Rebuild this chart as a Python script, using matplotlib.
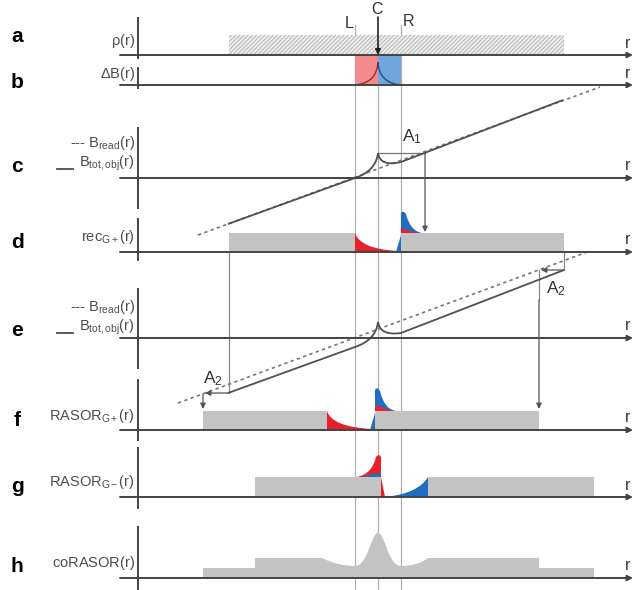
import numpy as np
import matplotlib.pyplot as plt
from matplotlib.path import Path
from matplotlib.patches import PathPatch, Rectangle, Polygon

plt.rcParams['font.family'] = ['Liberation Sans', 'DejaVu Sans']
plt.rcParams['mathtext.fontset'] = 'custom'
plt.rcParams['mathtext.rm'] = 'Liberation Sans'
plt.rcParams['mathtext.it'] = 'Liberation Sans:italic'
plt.rcParams['hatch.linewidth'] = 0.7

# ---- layout (pixel units) ----
rows = ['a', 'b', 'c', 'd', 'e', 'f', 'g', 'h']
row_y = [55, 85, 178, 252, 338, 430, 497, 578]          # baseline of each r axis
yax_top = [18, 68, 128, 219, 289, 380, 448, 527]
yax_bot = [58, 88, 208, 260, 368, 440, 508, 590]
letter_y = [37, 82, 167, 243, 330, 420, 486, 567]

ylabels = [r'$\mathregular{\rho(r)}$', r'$\mathregular{\Delta B(r)}$', None,
           r'$\mathregular{rec_{G+}(r)}$', None,
           r'$\mathregular{RASOR_{G+}(r)}$', r'$\mathregular{RASOR_{G-}(r)}$',
           r'$\mathregular{coRASOR(r)}$']
ylabel_y = [41, 74, None, 237, None, 416, 482, 563]

x_L, x_C, x_R = 355, 378, 401
obj_left, obj_right = 229, 564

gray = '#c3c3c3'
red = '#e8202a'
blue = '#1f6fc0'
axc = '#444444'
txt = '#4d4d4d'

fig = plt.figure(figsize=(6.38, 5.90), dpi=100)
ax = fig.add_axes([0, 0, 1, 1])
ax.set_xlim(0, 638)
ax.set_ylim(590, 0)
ax.axis('off')


def shape(verts, codes, color, z=3):
    ax.add_patch(PathPatch(Path(verts, codes), facecolor=color, edgecolor='none', zorder=z))


def arrow(p0, p1, lw=0.9, color='#555555'):
    ax.annotate('', xy=p1, xytext=p0,
                arrowprops=dict(arrowstyle='-|>', color=color, lw=lw,
                                mutation_scale=8, shrinkA=0, shrinkB=0), zorder=6)


M, L2, C3, C4, CL = Path.MOVETO, Path.LINETO, Path.CURVE3, Path.CURVE4, Path.CLOSEPOLY

# ---- axes ----
for i, y0 in enumerate(row_y):
    ax.plot([138, 138], [yax_top[i], yax_bot[i]], color=axc, lw=1.4, zorder=5)
    arrow((120, y0), (633, y0), lw=1.4, color=axc)
    ax.text(628, y0 - 12, 'r', fontsize=11.5, color='#333', ha='center', va='center')
    ax.text(17, letter_y[i], rows[i], fontsize=15, fontweight='bold', ha='center', va='center')
    if ylabels[i]:
        ax.text(135, ylabel_y[i], ylabels[i], fontsize=10.5, color=txt, ha='right', va='center')

for yy in (143, 307):
    ax.text(135, yy, r'--- $\mathregular{B_{read}(r)}$', fontsize=10.5, color=txt, ha='right', va='center')
for yy in (163, 327):
    ax.text(135, yy, r'$\mathregular{B_{tot,obj}(r)}$', fontsize=10.5, color=txt, ha='right', va='center')
    ax.plot([57, 73], [yy + 6, yy + 6], color=txt, lw=1.3)

# ---- L, C, R guide lines ----
for x, top in ((x_L, 25), (x_C, 55), (x_R, 25)):
    ax.plot([x, x], [top, 590], color='#b0b0b0', lw=0.9, zorder=1)
ax.text(349, 23, 'L', fontsize=11.5, ha='center', va='center', color='#333')
ax.text(377, 9, 'C', fontsize=11.5, ha='center', va='center', color='#333')
ax.text(409, 22, 'R', fontsize=11.5, ha='center', va='center', color='#333')
arrow((x_C, 17), (x_C, 55), lw=1.2, color='#222')

# ---- a: object density ----
ax.add_patch(Rectangle((obj_left, 35), obj_right - obj_left, 20, facecolor='#ececec',
                       edgecolor='#b8b8b8', hatch='////////', lw=0, zorder=2))

# ---- b: field offset ----
ax.add_patch(Rectangle((x_L, 55), x_C - x_L, 30, facecolor='#f28b8b', edgecolor='none', zorder=2))
ax.add_patch(Rectangle((x_C, 55), x_R - x_C, 30, facecolor='#6fa7dc', edgecolor='none', zorder=2))
ax.add_patch(PathPatch(Path([(x_L, 85), (377, 83), (x_C, 62)], [M, C3, C3]),
                       facecolor='none', edgecolor='#9c2a2a', lw=1.0, zorder=3))
ax.add_patch(PathPatch(Path([(x_C, 62), (379, 83), (x_R, 85)], [M, C3, C3]),
                       facecolor='none', edgecolor='#1b4f86', lw=1.0, zorder=3))

# ---- c: read gradient field ----
ax.plot([198, 600], [235, 87], color='#777', lw=1.2, ls=(0, (2, 2)), zorder=3)
ax.add_patch(PathPatch(Path([(228, 224), (x_L, 178), (376, 171), (x_C, 153),
                             (380, 167), (x_R, 162), (563, 100)],
                            [M, L2, C3, C3, C3, C3, L2]),
                       facecolor='none', edgecolor='#505050', lw=1.3, zorder=4))
ax.plot([x_C, 425], [153, 153], color='#777', lw=0.9, zorder=3)
arrow((425, 153), (425, 232))
ax.text(412, 137, r'$\mathregular{A_1}$', fontsize=12.5, ha='center', va='center', color='#333')

# ---- e: read gradient with opposite polarity ----
ax.plot([178, 590], [403, 251], color='#777', lw=1.2, ls=(0, (2, 2)), zorder=3)
ax.add_patch(PathPatch(Path([(228, 393), (x_L, 347), (376, 340), (x_C, 322),
                             (380, 336), (x_R, 333), (obj_right, 270)],
                            [M, L2, C3, C3, C3, C3, L2]),
                       facecolor='none', edgecolor='#505050', lw=1.3, zorder=4))
ax.text(556, 289, r'$\mathregular{A_2}$', fontsize=12.5, ha='center', va='center', color='#333')
ax.text(213, 379, r'$\mathregular{A_2}$', fontsize=12.5, ha='center', va='center', color='#333')

# connectors d -> e -> f
ax.plot([obj_left, obj_left], [252, 393], color='#888', lw=0.9, zorder=2)
ax.plot([obj_right, obj_right], [252, 270], color='#888', lw=0.9, zorder=2)
arrow((obj_left, 393), (205, 393))
arrow((203, 394), (203, 409))
arrow((obj_right, 270), (541, 270))
ax.plot([539, 539], [270, 300], color='#888', lw=0.9, zorder=2)
arrow((539, 300), (539, 409))

# ---- d: rec G+ ----
ax.add_patch(Rectangle((obj_left, 233), x_L - obj_left, 19, facecolor=gray, edgecolor='none', zorder=2))
ax.add_patch(Rectangle((x_R, 233), obj_right - x_R, 19, facecolor=gray, edgecolor='none', zorder=2))
shape([(x_L, 252), (x_L, 233), (360, 249), (398, 251), (398, 252), (x_L, 252)],
      [M, L2, C3, C3, L2, CL], red)
ax.add_patch(Polygon([(396, 252), (x_R, 252), (x_R, 235)], closed=True, facecolor=blue, edgecolor='none', zorder=3))
shape([(x_R, 233), (x_R, 213), (403, 210), (406, 214), (410, 231), (422, 233), (x_R, 233)],
      [M, L2, C3, C3, C3, C3, CL], blue)
ax.add_patch(Polygon([(x_R, 228), (410, 231), (418, 233), (x_R, 233)], closed=True,
                     facecolor=red, edgecolor='none', zorder=4))

# ---- f: RASOR G+ ----
ax.add_patch(Rectangle((203, 411), 327 - 203, 19, facecolor=gray, edgecolor='none', zorder=2))
ax.add_patch(Rectangle((375, 411), 539 - 375, 19, facecolor=gray, edgecolor='none', zorder=2))
shape([(327, 430), (327, 411), (332, 427), (372, 429), (372, 430), (327, 430)],
      [M, L2, C3, C3, L2, CL], red)
ax.add_patch(Polygon([(370, 430), (375, 430), (375, 413)], closed=True, facecolor=blue, edgecolor='none', zorder=3))
shape([(375, 411), (375, 390), (377, 386), (380, 391), (384, 409), (396, 411), (375, 411)],
      [M, L2, C3, C3, C3, C3, CL], blue)
ax.add_patch(Polygon([(375, 405), (384, 408), (392, 411), (375, 411)], closed=True,
                     facecolor=red, edgecolor='none', zorder=4))

# ---- g: RASOR G- ----
ax.add_patch(Rectangle((255, 477), 381 - 255, 20, facecolor=gray, edgecolor='none', zorder=2))
ax.add_patch(Rectangle((428, 477), 594 - 428, 20, facecolor=gray, edgecolor='none', zorder=2))
shape([(357, 477), (372, 474), (376, 457), (379, 453), (381, 457), (381, 477), (357, 477)],
      [M, C3, C3, C3, C3, L2, CL], red)
ax.add_patch(Polygon([(362, 477), (372, 474), (381, 473), (381, 477)], closed=True,
                     facecolor=blue, edgecolor='none', zorder=4))
ax.add_patch(Polygon([(381, 477), (385, 497), (381, 497)], closed=True, facecolor=red, edgecolor='none', zorder=3))
shape([(384, 497), (418, 494), (428, 477), (428, 497), (384, 497)],
      [M, C3, C3, L2, CL], blue)

# ---- h: coRASOR ----
shape([(203, 578), (203, 568), (255, 568), (255, 558), (322, 558),
       (338, 566), (x_L, 566),
       (368, 566), (371, 533), (x_C, 533),
       (385, 533), (388, 566), (x_R, 566),
       (418, 566), (428, 558),
       (539, 558), (539, 568), (594, 568), (594, 578), (203, 578)],
      [M, L2, L2, L2, L2,
       C3, C3,
       C4, C4, C4,
       C4, C4, C4,
       C3, C3,
       L2, L2, L2, L2, CL], gray, z=2)

fig.savefig('out.png', dpi=100)
